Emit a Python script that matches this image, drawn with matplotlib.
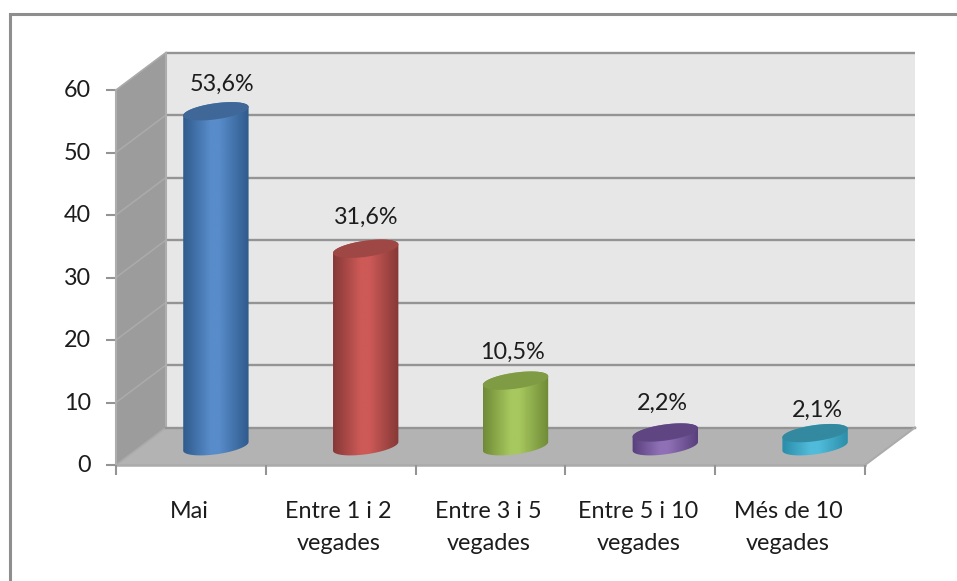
import numpy as np
import matplotlib
matplotlib.use("Agg")
import matplotlib.pyplot as plt
from matplotlib.colors import LinearSegmentedColormap
from matplotlib.patches import Polygon

# ---- data ----
categories = ["Mai", "Entre 1 i 2\nvegades", "Entre 3 i 5\nvegades",
              "Entre 5 i 10\nvegades", "Més de 10\nvegades"]
values = [53.6, 31.6, 10.5, 2.2, 2.1]
value_labels = ["53,6%", "31,6%", "10,5%", "2,2%", "2,1%"]
y_ticks = [0, 10, 20, 30, 40, 50, 60]

# ---- styles ----
edge_colors = ["#2f5a8c", "#853836", "#6f8a36", "#583f7c", "#2a8ca8"]
mid_colors = ["#588cca", "#cd5a57", "#a7c85f", "#8f70b6", "#50bbda"]
cap_colors = ["#3f6899", "#9f4744", "#7f9b44", "#5f4683", "#33899f"]
label_shift = [(6, -27), (0, -31), (-3, -28), (-3, -29), (2, -23)]  # px

W, H = 957, 581
X0, Y0 = 116, 465          # front-left origin, px
CAT_W, UNIT_H = 149.8, 6.25  # px per category / per value unit
DX, DY = 50, 37.5          # depth of the box, px
n = len(categories)
ymax = y_ticks[-1]

fig = plt.figure(figsize=(W / 100, H / 100), dpi=100, facecolor="white")
ax = fig.add_axes([0, 0, 1, 1])
ax.set_xlim(-X0 / CAT_W, (W - X0) / CAT_W)
ax.set_ylim(-(H - Y0) / UNIT_H, Y0 / UNIT_H)
ax.axis("off")
plt.rcParams["font.family"] = ["Lato", "DejaVu Sans"]

dx, dy = DX / CAT_W, DY / UNIT_H
GRID = "#949494"
FS = 16.8
TXT = "#1c1c1c"

# walls
ax.add_patch(Polygon([(dx, dy), (n + dx, dy), (n + dx, ymax + dy), (dx, ymax + dy)],
                     fc="#e7e7e7", ec="none", zorder=1))
ax.add_patch(Polygon([(0, 0), (dx, dy), (dx, ymax + dy), (0, ymax)],
                     fc="#9c9c9c", ec="none", zorder=1))
ax.add_patch(Polygon([(0, 0), (n, 0), (n + dx, dy), (dx, dy)],
                     fc="#b3b3b3", ec="none", zorder=1))

# gridlines
for t in y_ticks:
    if t > 0:
        ax.plot([dx, n + dx], [t + dy, t + dy], color=GRID, lw=1.7, zorder=2,
                solid_capstyle="butt")
    ax.plot([0, dx], [t, t + dy], color="#aaaaaa", lw=1.2, zorder=2)
    ax.plot([-10 / CAT_W, 0], [t, t], color=GRID, lw=1.5, zorder=2,
            solid_capstyle="butt")
    ax.text(-25 / CAT_W, t - 0.1, str(t), ha="right", va="center",
            fontsize=FS, color=TXT)
ax.plot([dx, dx], [dy, ymax + dy], color="#adadad", lw=1.5, zorder=2)
ax.plot([0, 0], [0, ymax], color="#adadad", lw=1.5, zorder=2)
ax.plot([dx, n + dx], [dy, dy], color=GRID, lw=1.7, zorder=2)
ax.plot([0, n], [0, 0], color="#ababab", lw=1.8, zorder=2)
ax.plot([n, n + dx], [0, dy], color="#ababab", lw=1.5, zorder=2)
for i in range(n + 1):
    ax.plot([i, i], [0, -10 / UNIT_H], color=GRID, lw=1.5, zorder=2,
            solid_capstyle="butt")

# cylinders
A, B, PHI = 33.0, 8.0, np.radians(8)


def ellipse(cx, cy, t):
    px = A * np.cos(t) * np.cos(PHI) - B * np.sin(t) * np.sin(PHI)
    py = A * np.cos(t) * np.sin(PHI) + B * np.sin(t) * np.cos(PHI)
    return cx + px / CAT_W, cy + py / UNIT_H


for i, v in enumerate(values):
    cx = i + 0.5 + dx / 2
    cb = dy / 2
    ct = cb + v
    # silhouette: lower half of the base, then upper half of the top
    xb, yb = ellipse(cx, cb, np.linspace(np.pi, 2 * np.pi, 60))
    xt, yt = ellipse(cx, ct, np.linspace(0, np.pi, 60))
    sil = Polygon(np.column_stack([np.r_[xb, xt], np.r_[yb, yt]]),
                  fc="none", ec="none", zorder=3)
    ax.add_patch(sil)
    cmap = LinearSegmentedColormap.from_list(
        "c", [(0, edge_colors[i]), (0.42, mid_colors[i]), (0.55, mid_colors[i]),
              (1, edge_colors[i])])
    half = A / CAT_W
    im = ax.imshow(np.linspace(0, 1, 256)[None, :], cmap=cmap, aspect="auto",
                   extent=[cx - half, cx + half, cb - 4, ct + 4], zorder=3,
                   interpolation="bilinear")
    im.set_clip_path(sil)
    xc, yc = ellipse(cx, ct, np.linspace(0, 2 * np.pi, 120))
    ax.add_patch(Polygon(np.column_stack([xc, yc]), fc=cap_colors[i], ec="none",
                         zorder=4))
    sx, sy = label_shift[i]
    ax.text(cx + sx / CAT_W, ct + (-sy) / UNIT_H, value_labels[i], ha="center",
            va="center", fontsize=FS, color=TXT, zorder=5)

ax.set_xlim(-X0 / CAT_W, (W - X0) / CAT_W)
ax.set_ylim(-(H - Y0) / UNIT_H, Y0 / UNIT_H)

# category labels
for i, c in enumerate(categories):
    for j, line in enumerate(c.split("\n")):
        ax.text(i + 0.5 - 2 / CAT_W, -(46 + 32.5 * j) / UNIT_H, line, ha="center",
                va="center", fontsize=FS, color=TXT)

# outer frame (top and left edges only)
ax.plot([10 / CAT_W - X0 / CAT_W, 10 / CAT_W - X0 / CAT_W],
        [-(H - Y0) / UNIT_H, (Y0 - 14) / UNIT_H], color="#8e8e8e", lw=2.2,
        solid_capstyle="butt", zorder=2)
ax.plot([10 / CAT_W - X0 / CAT_W, (W - X0) / CAT_W],
        [(Y0 - 14) / UNIT_H, (Y0 - 14) / UNIT_H], color="#8e8e8e", lw=2.2,
        solid_capstyle="projecting", zorder=2)

fig.savefig("out.png", dpi=100, facecolor="white")
